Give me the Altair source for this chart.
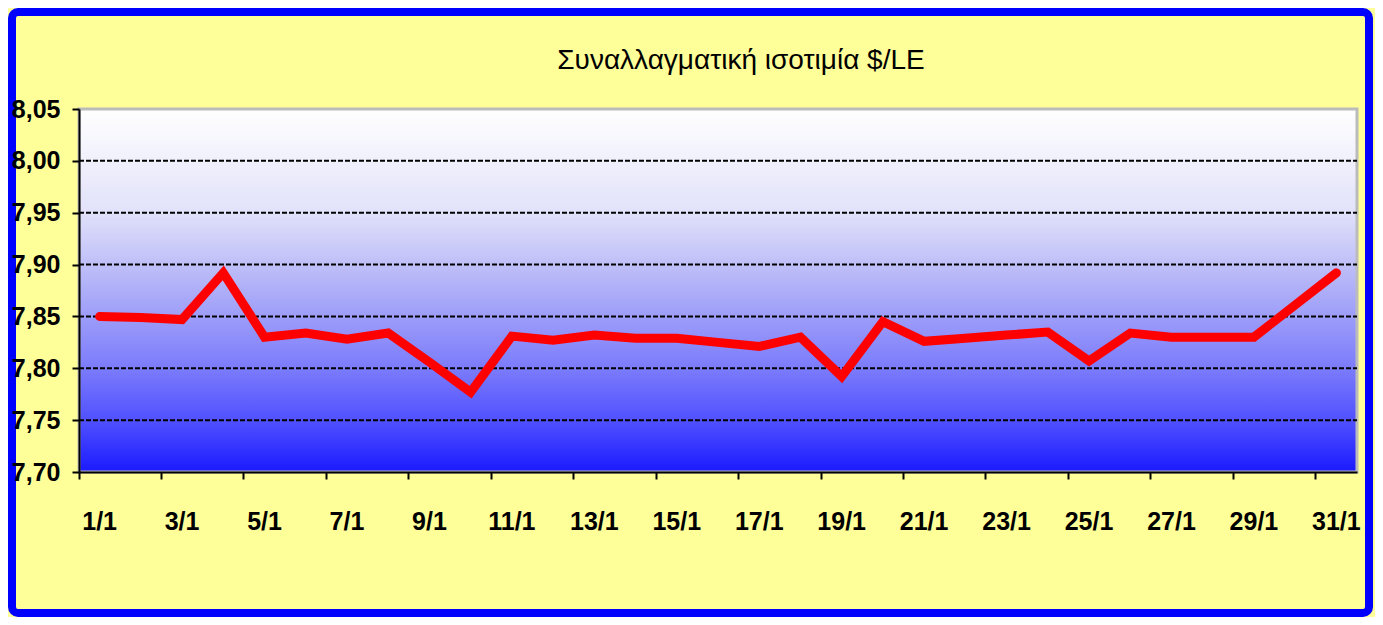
import altair as alt
import pandas as pd

# ---- data ----
days = [f"{d}/1" for d in range(1, 32)]
rates = [7.850, 7.849, 7.847, 7.892, 7.830, 7.834, 7.828, 7.834, 7.806, 7.777,
         7.831, 7.827, 7.832, 7.829, 7.829, 7.825, 7.821, 7.830, 7.792, 7.845,
         7.826, 7.829, 7.832, 7.835, 7.807, 7.834, 7.830, 7.830, 7.830, 7.861,
         7.892]
x_label_days = days[::2]
y_ticks = [7.70, 7.75, 7.80, 7.85, 7.90, 7.95, 8.00, 8.05]
title_text = "Συναλλαγματική ισοτιμία $/LE"

df = pd.DataFrame({"day": days, "rate": rates})
grid_df = pd.DataFrame({"rate": y_ticks[1:]})

W, H = 1278, 363
LABEL_FONT = "Liberation Sans Narrow, Arial Narrow, Liberation Sans, sans-serif"
y_scale = alt.Scale(domain=[7.70, 8.05], nice=False, zero=False)

x_axis = alt.Axis(
    values=x_label_days,
    title=None,
    labelAngle=0,
    labelFont=LABEL_FONT,
    labelFontSize=25,
    labelFontWeight="bold",
    labelColor="black",
    labelPadding=30,
    bandPosition=0,
    tickSize=7,
    tickWidth=2,
    tickColor="black",
    domainColor="black",
    domainWidth=2,
    grid=False,
    zindex=1,
)

y_axis = alt.Axis(
    values=y_ticks,
    title=None,
    labelExpr="replace(format(datum.value, '.2f'), '.', ',')",
    labelFont=LABEL_FONT,
    labelFontSize=25,
    labelFontWeight="bold",
    labelColor="black",
    labelPadding=12,
    tickSize=7,
    tickWidth=2,
    tickColor="black",
    domainColor="black",
    domainWidth=2,
    grid=False,
    zindex=1,
)

x_enc = alt.X(
    "day:N",
    sort=days,
    bandPosition=0.5,
    scale=alt.Scale(type="band", paddingInner=0, paddingOuter=0),
    axis=x_axis,
)

gradient = alt.LinearGradient(
    gradient="linear",
    x1=0, x2=0, y1=0, y2=1,
    stops=[
        alt.GradientStop(offset=0.0, color="#FFFFFF"),
        alt.GradientStop(offset=0.28, color="#E2E2FA"),
        alt.GradientStop(offset=0.5, color="#AEAEF8"),
        alt.GradientStop(offset=0.72, color="#7A7AFC"),
        alt.GradientStop(offset=0.86, color="#5050FF"),
        alt.GradientStop(offset=1.0, color="#1A1AFF"),
    ],
)

one = pd.DataFrame({"k": [0]})

frame = alt.Chart(one).mark_rect(
    fill="transparent", stroke="#0000FF", strokeWidth=8, cornerRadius=6
).encode(
    x=alt.value(-67), x2=alt.value(1290), y=alt.value(-97), y2=alt.value(504)
)

plot_bg = alt.Chart(one).mark_rect(
    fill=gradient, stroke="#BBBBBB", strokeWidth=3
).encode(
    x=alt.value(0), x2=alt.value(W), y=alt.value(0), y2=alt.value(H)
)

title = alt.Chart(one).mark_text(
    text=title_text,
    font="Liberation Sans",
    fontSize=28,
    color="black",
    align="center",
    baseline="alphabetic",
).encode(x=alt.value(W / 2 + 23), y=alt.value(-40))

grid = alt.Chart(grid_df).mark_rule(strokeDash=[5, 2], strokeWidth=2).encode(
    y=alt.Y("rate:Q", scale=y_scale, axis=y_axis),
    x=alt.value(0),
    x2=alt.value(W),
    color=alt.condition("datum.rate > 8.04", alt.value("#BBBBBB"), alt.value("black")),
)

line = alt.Chart(df).mark_line(
    color="#FF0000", strokeWidth=9, strokeCap="round", strokeJoin="miter"
).encode(x=x_enc, y=alt.Y("rate:Q", scale=y_scale, axis=y_axis))

chart = alt.layer(frame, plot_bg, title, grid, line).properties(
    width=W,
    height=H,
    autosize=alt.AutoSizeParams(type="none"),
    padding={"left": 71, "top": 101, "right": 18, "bottom": 145},
).configure(
    background="#FFFF99"
).configure_view(
    strokeWidth=0,
)

chart.save("out.html", embed_options={"renderer": "svg", "actions": False})
